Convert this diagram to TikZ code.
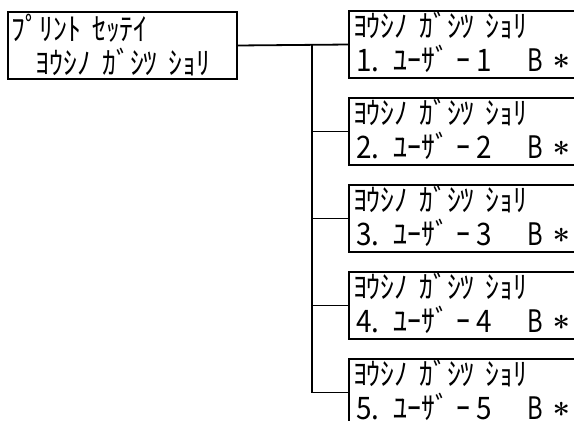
\documentclass[tikz,border=0pt]{standalone}
\usepackage{graphicx}
\usepackage{fontspec}
\newfontfamily\jp[WordSpace={2.2,0,0},FakeStretch=0.9]{Noto Sans CJK JP}
\newcommand{\myast}{\raisebox{-6pt}{\rmfamily\bfseries *}}
\newcommand{\usr}[1]{\makebox[217pt][l]{\hspace{3pt}#1.\hspace{14pt}ﾕｰｻﾞ\hspace{7pt}ｰ\hspace{7pt}#1\hfill \scalebox{0.85}[1]{B}\hspace{9pt}\myast}}
\begin{document}
\begin{tikzpicture}[x=1pt,y=-1pt,
  box/.style={draw, line width=1.8pt, anchor=north west, inner ysep=0pt, outer sep=0pt,
    align=left, font=\jp\fontsize{31}{34}\selectfont, minimum height=67},
  leftbox/.style={box, inner xsep=4pt, text width=221, minimum width=229},
  userbox/.style={box, inner xsep=4pt, text width=232, minimum width=240},
  wire/.style={line width=1.8pt}]
\useasboundingbox (0,0) rectangle (574,421);
\node[leftbox] (L) at (8,12) {ﾌﾟﾘﾝﾄ ｾｯﾃｲ\\\hspace*{24pt}ﾖｳｼﾉ ｶﾞｼﾂ ｼｮﾘ};
\node[userbox] (B1) at (349,11)  {ﾖｳｼﾉ ｶﾞｼﾂ ｼｮﾘ\\\usr{1}};
\node[userbox] (B2) at (349,98)  {ﾖｳｼﾉ ｶﾞｼﾂ ｼｮﾘ\\\usr{2}};
\node[userbox] (B3) at (349,185) {ﾖｳｼﾉ ｶﾞｼﾂ ｼｮﾘ\\\usr{3}};
\node[userbox] (B4) at (349,272) {ﾖｳｼﾉ ｶﾞｼﾂ ｼｮﾘ\\\usr{4}};
\node[userbox] (B5) at (349,359) {ﾖｳｼﾉ ｶﾞｼﾂ ｼｮﾘ\\\usr{5}};
\coordinate (bus) at (312,0);
\draw[wire] (L.east) -- (B1.west);
\draw[wire] (bus |- B1.west) -- (bus |- B5.west);
\foreach \i in {2,...,5} \draw[wire] (bus |- B\i.west) -- (B\i.west);
\end{tikzpicture}
\end{document}
